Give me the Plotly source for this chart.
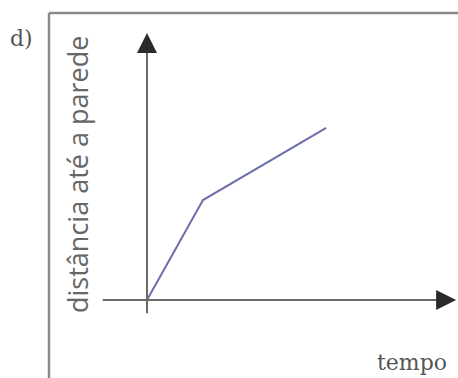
import plotly.graph_objects as go

# dados (unidades arbitrárias)
tempo = [0, 1, 3.2]
distancia = [0, 1.8, 3.1]

eixo_x = [-0.79, 5.52]   # início e ponta da seta do eixo do tempo
eixo_y = [-0.24, 4.81]   # início e ponta da seta do eixo da distância

W, H = 458, 378


def px(x, y):
    # posição em pixels -> coordenadas do papel
    return x / W, 1 - y / H


fig = go.Figure()

fig.add_trace(go.Scatter(
    x=tempo, y=distancia,
    mode="lines",
    line=dict(color="#6b6fab", width=2),
    hoverinfo="skip",
))

# eixos: haste cinza + ponta escura
eixo = dict(color="#6a6a6a", width=2)
fig.add_shape(type="line", x0=eixo_x[0], x1=eixo_x[1] - 0.2, y0=0, y1=0, line=eixo)
fig.add_shape(type="line", x0=0, x1=0, y0=eixo_y[0], y1=eixo_y[1] - 0.2, line=eixo)

ponta = dict(xref="x", yref="y", axref="x", ayref="y", showarrow=True,
             arrowhead=2, arrowsize=2, arrowwidth=2, arrowcolor="#2a2a2a", text="")
fig.add_annotation(x=eixo_x[1], y=0, ax=eixo_x[1] - 0.3, ay=0, **ponta)
fig.add_annotation(x=0, y=eixo_y[1], ax=0, ay=eixo_y[1] - 0.3, **ponta)

# moldura
x0, y0 = px(49, 13)
fig.add_shape(type="line", xref="paper", yref="paper", x0=x0, y0=y0, x1=x0, y1=0,
              line=dict(color="#8a8a8a", width=2.5))
fig.add_shape(type="line", xref="paper", yref="paper", x0=x0, y0=y0, x1=1, y1=y0,
              line=dict(color="#8a8a8a", width=2.5))

# textos
texto = dict(xref="paper", yref="paper", showarrow=False, xanchor="center", yanchor="middle")
tx, ty = px(21, 39)
fig.add_annotation(x=tx, y=ty, text="d)", **texto,
                   font=dict(family="DejaVu Serif", size=22, color="#555555"))
tx, ty = px(412, 362)
fig.add_annotation(x=tx, y=ty, text="tempo", **texto,
                   font=dict(family="DejaVu Serif", size=22, color="#555555"))
tx, ty = px(77, 175)
fig.add_annotation(x=tx, y=ty, text="distância até a parede", textangle=-90, **texto,
                   font=dict(family="Open Sans", size=27, color="#666666"))

fig.update_xaxes(range=[-147 / 56, -147 / 56 + W / 56], visible=False)
fig.update_yaxes(range=[-78 / 55.5, -78 / 55.5 + H / 55.5], visible=False)
fig.update_layout(
    width=W, height=H, autosize=False,
    margin=dict(l=0, r=0, t=0, b=0),
    paper_bgcolor="white", plot_bgcolor="white",
    showlegend=False,
)

fig.write_html("out.html", config={"displayModeBar": False},
               post_script="document.body.style.margin='0';")
